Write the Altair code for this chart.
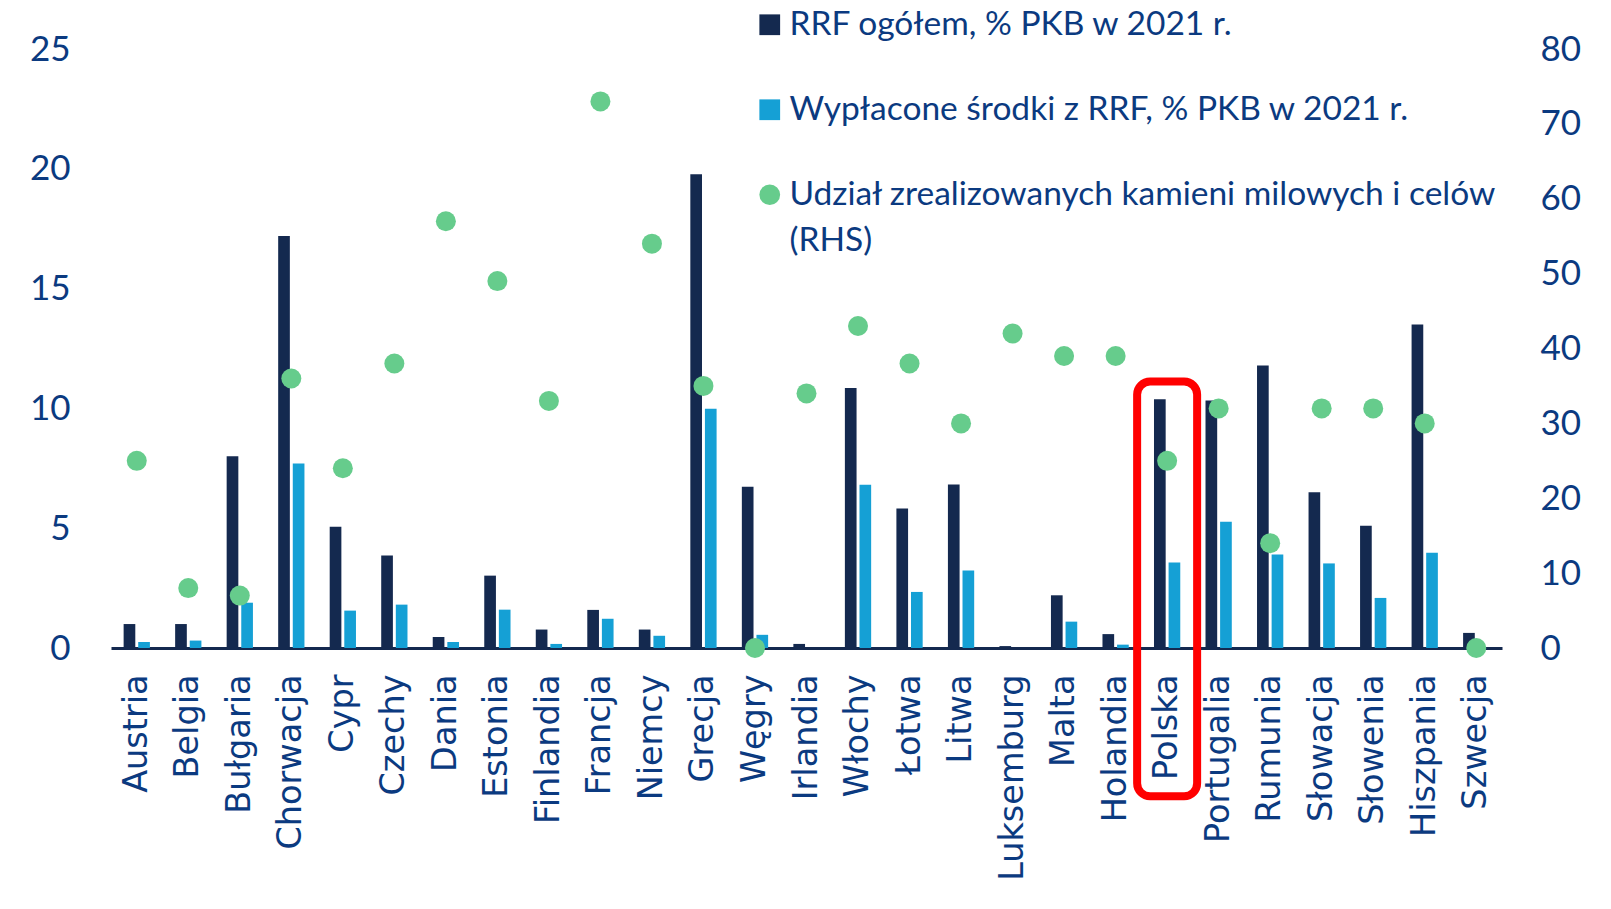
import altair as alt
import pandas as pd

# --- data -------------------------------------------------------------
countries = ["Austria", "Belgia", "Bułgaria", "Chorwacja", "Cypr", "Czechy", "Dania",
             "Estonia", "Finlandia", "Francja", "Niemcy", "Grecja", "Węgry", "Irlandia",
             "Włochy", "Łotwa", "Litwa", "Luksemburg", "Malta", "Holandia", "Polska",
             "Portugalia", "Rumunia", "Słowacja", "Słowenia", "Hiszpania", "Szwecja"]

rrf_total = [1.0, 1.0, 8.0, 17.2, 5.06, 3.86, 0.46, 3.02, 0.77, 1.59, 0.77, 19.77, 6.73, 0.17,
             10.85, 5.82, 6.82, 0.08, 2.2, 0.58, 10.38, 10.33, 11.79, 6.5, 5.1, 13.5, 0.63]

rrf_paid = [0.25, 0.31, 1.89, 7.7, 1.56, 1.81, 0.25, 1.6, 0.17, 1.22, 0.51, 9.99, 0.55, 0.0,
            6.81, 2.34, 3.23, 0.0, 1.1, 0.14, 3.57, 5.27, 3.9, 3.53, 2.09, 3.98, 0.0]

milestones = [25, 8, 7, 36, 24, 38, 57, 49, 33, 73, 54, 35, 0, 34,
              43, 38, 30, 42, 39, 39, 25, 32, 14, 32, 32, 30, 0]

series_names = ["RRF ogółem, % PKB w 2021 r.",
                "Wypłacone środki z RRF, % PKB w 2021 r.",
                "Udział zrealizowanych kamieni milowych i celów (RHS)"]

left_ticks = [0, 5, 10, 15, 20, 25]
right_ticks = [0, 10, 20, 30, 40, 50, 60, 70, 80]

# highlighted country and the vertical extent of its frame (left-axis units)
highlight_country = "Polska"
highlight_top = 11.12
highlight_bottom = -6.19

# --- styles -----------------------------------------------------------
NAVY = "#14294f"
LIGHT = "#15a0d5"
GREEN = "#66cc8c"
TXT = "#0b3a80"
RED = "#ff0000"

bars_df = pd.DataFrame({
    "kraj": countries * 2,
    "seria": [series_names[0]] * len(countries) + [series_names[1]] * len(countries),
    "wartosc": rrf_total + rrf_paid,
})
dots_df = pd.DataFrame({
    "kraj": countries,
    "seria": [series_names[2]] * len(countries),
    "udzial": milestones,
})
frame_df = pd.DataFrame({
    "kraj": [highlight_country],
    "gora": [highlight_top],
    "dol": [highlight_bottom],
})

color_scale = alt.Scale(domain=series_names, range=[NAVY, LIGHT, GREEN])
shape_scale = alt.Scale(domain=series_names, range=["square", "square", "circle"])

label_expr = (
    "datum.label == '" + series_names[2] + "' ? "
    "['Udział zrealizowanych kamieni milowych i celów', '(RHS)'] : datum.label"
)
legend = alt.Legend(title=None, labelExpr=label_expr)

x_enc = alt.X(
    "kraj:N",
    sort=countries,
    scale=alt.Scale(paddingInner=0.49, paddingOuter=0.245),
    axis=alt.Axis(
        title=None, labelAngle=-90, labelFont="DejaVu Sans", labelFontSize=33.5,
        labelColor=TXT, labelPadding=26, ticks=False, tickSize=0,
        domainColor=NAVY, domainWidth=3, grid=False, labelLimit=400,
    ),
)

left_axis = alt.Axis(
    title=None, orient="left", values=left_ticks, labelFont="Lato", labelFontSize=35,
    labelColor=TXT, labelPadding=41, domain=False, ticks=False, grid=False,
)
right_axis = alt.Axis(
    title=None, orient="right", values=right_ticks, labelFont="Lato", labelFontSize=35,
    labelColor=TXT, labelPadding=38, domain=False, ticks=False, grid=False,
)

bars = alt.Chart(bars_df).mark_bar().encode(
    x=x_enc,
    xOffset=alt.XOffset("seria:N", sort=series_names[:2],
                        scale=alt.Scale(paddingInner=0.2, paddingOuter=0)),
    y=alt.Y("wartosc:Q", scale=alt.Scale(domain=[0, 25], nice=False), axis=left_axis),
    color=alt.Color("seria:N", scale=color_scale, legend=legend),
)

frame = alt.Chart(frame_df).mark_bar(
    width=60, fillOpacity=0, stroke=RED, strokeWidth=8, cornerRadius=13
).encode(
    x=alt.X("kraj:N", sort=countries),
    y=alt.Y("gora:Q"),
    y2="dol:Q",
)

dots = alt.Chart(dots_df).mark_point(filled=True, size=400, opacity=1).encode(
    x=alt.X("kraj:N", sort=countries),
    y=alt.Y("udzial:Q", scale=alt.Scale(domain=[0, 80], nice=False), axis=right_axis),
    color=alt.Color("seria:N", scale=color_scale, legend=legend),
    shape=alt.Shape("seria:N", scale=shape_scale, legend=legend),
)

left_layer = alt.layer(bars, frame)

chart = (
    alt.layer(left_layer, dots)
    .resolve_scale(y="independent")
    .properties(
        width=1391, height=599,
        padding={"left": 111, "top": 49, "right": 109, "bottom": 261},
        autosize=alt.AutoSizeParams(type="none"),
        background="white",
    )
    # wider line spacing for the two-line legend label
    .configure(style={"guide-label": {"lineHeight": 46}})
    .configure_view(strokeWidth=0)
    .configure_legend(
        orient="none", legendX=642, legendY=-41, padding=0,
        labelFont="Lato", labelFontSize=33.5, labelColor=TXT, labelLimit=1000,
        symbolSize=430, symbolStrokeWidth=0, labelOffset=3, rowPadding=50,
    )
)

chart.save("out.html", embed_options={"renderer": "svg", "actions": False})
